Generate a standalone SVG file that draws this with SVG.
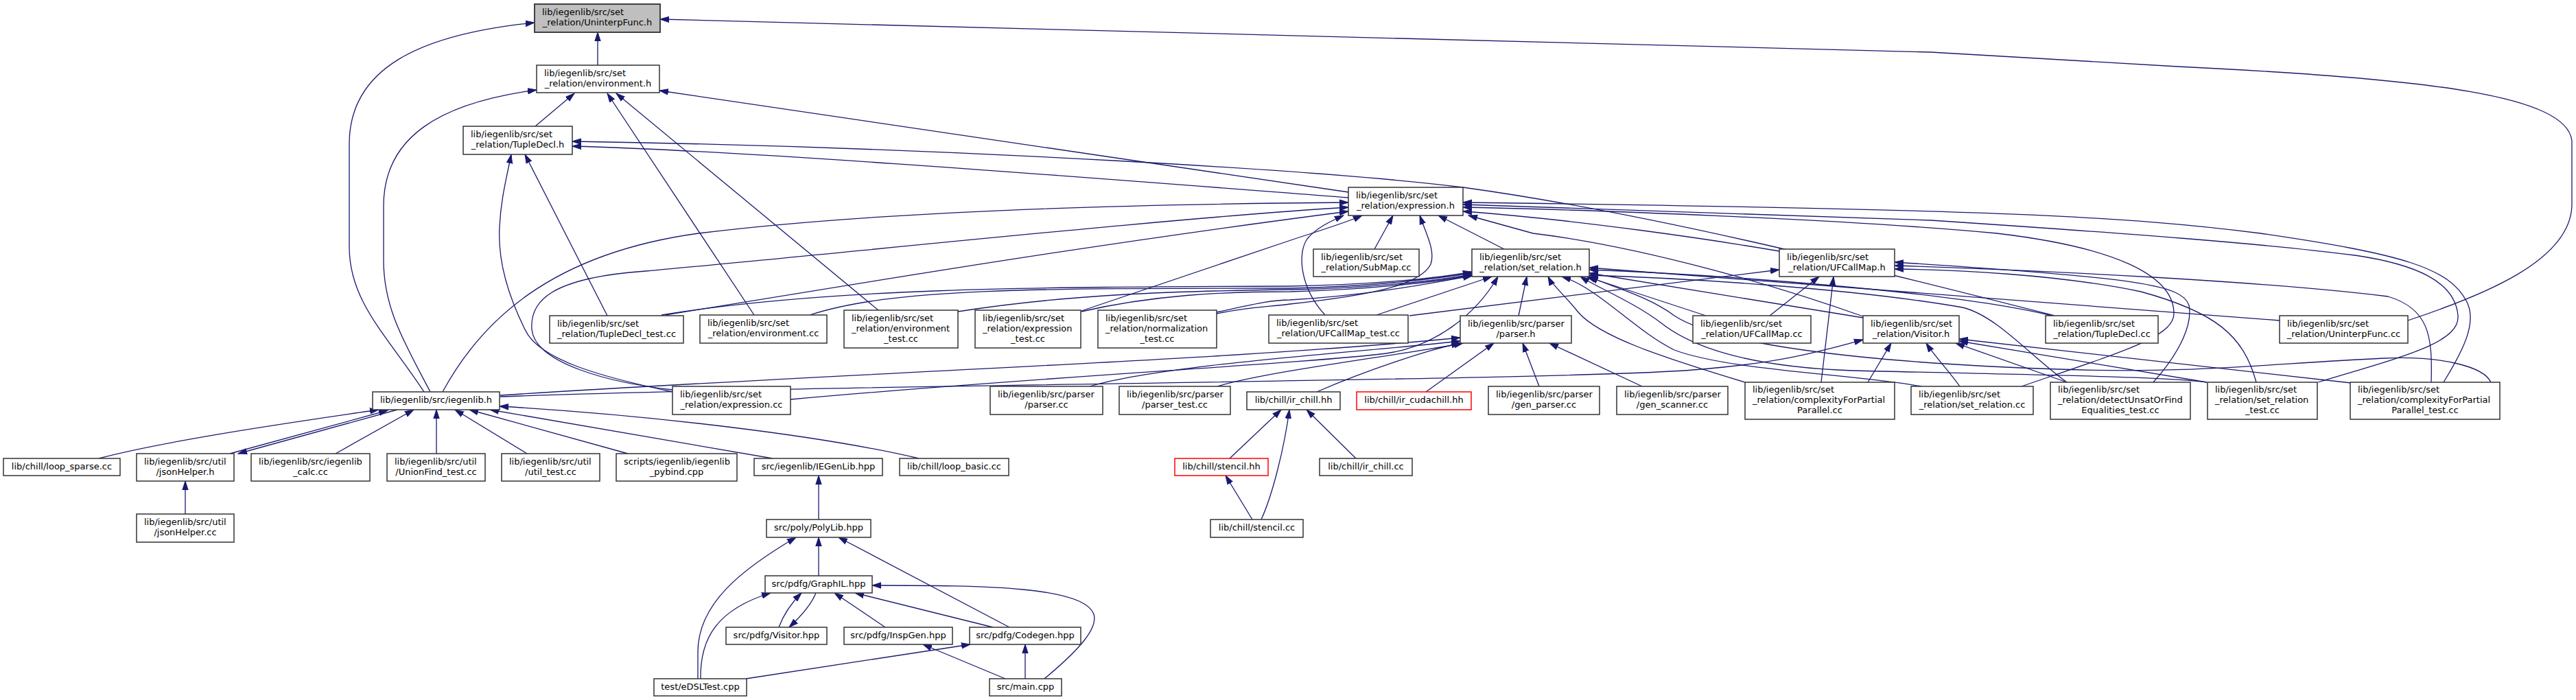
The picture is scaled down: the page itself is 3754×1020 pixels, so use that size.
<svg xmlns="http://www.w3.org/2000/svg" width="3754" height="1020" viewBox="0 0 3754 1020">
<defs>
<marker id="a" markerWidth="14" markerHeight="10" refX="13" refY="5" orient="auto" markerUnits="userSpaceOnUse"><path d="M0,0.8 L13,5 L0,9.2 z" fill="#191970" stroke="#191970" stroke-width="1"/></marker>
</defs>
<style>
.n rect{fill:#fff;stroke:#333;stroke-width:1.5}
.n.root rect{fill:#bfbfbf;stroke:#404040;stroke-width:2}
.n.red rect{stroke:#ff0000}
.n text{font-family:"DejaVu Sans",sans-serif;font-size:13px;fill:#000}
.n text.c{text-anchor:middle}
.e path{fill:none;stroke:#191970;stroke-width:1.3;marker-end:url(#a)}
</style>
<rect width="3754" height="1020" fill="#fff"/>
<g id="edges" class="e">
<path d="M871,95 L871,47"/>
<path d="M618,571 C565,490 509,440 509,360 L509,210 C509,100 610,50 779,33"/>
<path d="M3509,467 C3620,430 3745,380 3748,300 L3748,205 C3740,140 3550,115 3174,97 L2814,76 L962,28"/>
<path d="M780,184 L837,136"/>
<path d="M627,571 C590,500 559,450 559,380 L559,300 C559,200 640,150 782,131"/>
<path d="M1099,459 L885,136"/>
<path d="M1280,452 L898,136"/>
<path d="M1965,280 L961,132"/>
<path d="M1965,288 C1600,260 1100,220 834,213"/>
<path d="M2994,460 C2700,385 2400,310 2132,273 C1950,250 1400,215 834,206"/>
<path d="M885,460 L765,225"/>
<path d="M980,571 C880,550 785,525 765,480 C740,430 725,380 728,330 C730,290 738,260 745,225"/>
<path d="M980,568 C890,558 780,530 775,480 C772,440 800,405 941,395 C1200,372 1700,318 1965,302"/>
<path d="M645,571 C700,470 800,370 1018,340 C1300,305 1700,297 1965,295"/>
<path d="M144,668 C250,640 450,612 552,597"/>
<path d="M335,661 L565,598"/>
<path d="M579,597 L347,661"/>
<path d="M489,661 L603,597"/>
<path d="M636,661 L636,597"/>
<path d="M768,661 L663,597"/>
<path d="M915,661 L684,597"/>
<path d="M1126,668 L714,597"/>
<path d="M1339,668 C1200,635 950,605 728,592"/>
<path d="M270,749 L270,701"/>
<path d="M1193,757 L1193,693"/>
<path d="M1193,839 L1193,783"/>
<path d="M1471,914 L1222,783"/>
<path d="M1017,989 L1017,950 C1017,880 1080,830 1160,783"/>
<path d="M1135,914 C1142,895 1155,877 1168,864"/>
<path d="M1189,864 C1182,882 1165,900 1150,914"/>
<path d="M1290,914 L1216,864"/>
<path d="M1447,914 L1246,864"/>
<path d="M1522,989 C1575,945 1600,915 1594,895 C1580,855 1440,853 1271,853"/>
<path d="M1021,989 C1020,930 1045,888 1123,864"/>
<path d="M1087,989 L1414,939"/>
<path d="M1465,989 L1345,939"/>
<path d="M1494,989 L1494,939"/>
<path d="M1825,757 L1786,693"/>
<path d="M1838,757 C1855,720 1872,650 1879,597"/>
<path d="M1792,668 L1867,597"/>
<path d="M1976,668 L1904,597"/>
<path d="M1919,571 C1990,540 2080,510 2128,500"/>
<path d="M2078,571 L2177,500"/>
<path d="M2243,563 L2219,500"/>
<path d="M2393,563 L2258,500"/>
<path d="M1588,563 C1700,530 2000,512 2128,497"/>
<path d="M1774,563 C1850,540 2060,515 2132,500"/>
<path d="M729,576 C1200,545 1800,525 2128,492"/>
<path d="M729,578 C1200,560 2300,555 2480,538 C2600,528 2660,510 2715,495"/>
<path d="M2213,460 L2225,403"/>
<path d="M2192,363 L2096,314"/>
<path d="M2006,459 L2174,403"/>
<path d="M2486,460 L2312,403"/>
<path d="M2715,463 L2316,398"/>
<path d="M2715,461 C2600,420 2400,360 2234,340 L2140,314"/>
<path d="M964,459 C1200,420 1500,418 1880,417 C2000,415 2100,405 2145,396"/>
<path d="M1180,459 C1300,420 1500,420 1880,420 C2000,418 2100,405 2145,398"/>
<path d="M1396,454 C1550,430 1700,424 1880,422 C2000,420 2100,408 2145,400"/>
<path d="M1576,454 C1680,430 1780,425 1880,425 C2000,422 2100,410 2145,401"/>
<path d="M1773,455 C1820,445 1850,437 1880,437 C2000,430 2100,410 2145,402"/>
<path d="M1773,457 C1820,447 1850,447 1880,443 C2000,430 2070,415 2085,385 C2092,365 2078,340 2069,314"/>
<path d="M1576,453 L1881,350 C1920,337 1960,325 1985,314"/>
<path d="M1931,459 C1895,420 1890,370 1905,348 C1918,332 1940,322 1958,314"/>
<path d="M2003,363 L2030,314"/>
<path d="M970,459 C1300,405 1600,355 1965,308"/>
<path d="M2593,366 C2500,350 2300,320 2132,308"/>
<path d="M2054,460 L2593,393"/>
<path d="M2579,460 L2651,403"/>
<path d="M2654,557 L2672,403"/>
<path d="M2722,557 L2756,500"/>
<path d="M2856,563 C2840,540 2820,520 2807,500"/>
<path d="M3138,557 C3180,510 3195,470 3190,445 C3180,415 3120,405 2761,382"/>
<path d="M3543,557 C3545,490 3540,450 3480,432 C3300,410 3000,395 2761,387"/>
<path d="M3288,557 C3270,490 3230,455 3120,425 C3000,400 2850,393 2761,392"/>
<path d="M2946,563 C3100,510 3170,490 3168,455 C3166,400 3080,360 2910,340 C2700,320 2300,305 2132,302"/>
<path d="M3378,557 C3500,520 3585,500 3582,460 C3578,410 3520,385 3432,372 C3300,355 3100,340 2814,321 L2132,298"/>
<path d="M3561,557 C3590,510 3610,470 3595,440 C3570,390 3500,370 3294,340 C3100,315 2900,305 2132,295"/>
<path d="M2990,460 C2850,425 2500,400 2316,393"/>
<path d="M3322,467 L2316,390"/>
<path d="M3012,557 L2850,500"/>
<path d="M3216,557 L2855,497"/>
<path d="M3426,558 L2855,494"/>
<path d="M3012,557 C2960,520 2910,460 2860,448 C2700,420 2450,405 2316,401"/>
<path d="M2543,557 C2420,520 2330,490 2300,455 C2280,430 2262,415 2256,403"/>
<path d="M2800,563 C2700,545 2520,540 2440,510 C2380,480 2330,420 2276,403"/>
<path d="M3216,557 C3150,548 2900,545 2700,540 C2560,535 2470,510 2420,470 C2380,440 2330,420 2303,403"/>
<path d="M3630,557 C3620,535 3560,518 3474,522 C3300,530 3200,545 3000,538 C2700,528 2500,500 2440,460 C2400,430 2340,415 2316,403"/>
<path d="M1152,582 C1500,550 1900,530 2020,515 C2090,505 2150,460 2183,403"/>
</g>
<g id="n1" class="n root"><rect x="779" y="6" width="183" height="41"/><text x="790" y="22">lib/iegenlib/src/set</text><text class="c" x="870.5" y="37">_relation/UninterpFunc.h</text></g>
<g id="n2" class="n"><rect x="782" y="95" width="179" height="40"/><text x="793" y="110.5">lib/iegenlib/src/set</text><text class="c" x="871.5" y="125.5">_relation/environment.h</text></g>
<g id="n3" class="n"><rect x="675" y="184" width="159" height="41"/><text x="686" y="200">lib/iegenlib/src/set</text><text class="c" x="754.5" y="215">_relation/TupleDecl.h</text></g>
<g id="n4" class="n"><rect x="1965" y="273" width="167" height="41"/><text x="1976" y="289">lib/iegenlib/src/set</text><text class="c" x="2048.5" y="304">_relation/expression.h</text></g>
<g id="n5" class="n"><rect x="1914" y="363" width="154" height="40"/><text x="1925" y="378.5">lib/iegenlib/src/set</text><text class="c" x="1991" y="393.5">_relation/SubMap.cc</text></g>
<g id="n6" class="n"><rect x="2145" y="363" width="171" height="40"/><text x="2156" y="378.5">lib/iegenlib/src/set</text><text class="c" x="2230.5" y="393.5">_relation/set_relation.h</text></g>
<g id="n7" class="n"><rect x="2593" y="363" width="168" height="40"/><text x="2604" y="378.5">lib/iegenlib/src/set</text><text class="c" x="2677" y="393.5">_relation/UFCallMap.h</text></g>
<g id="n8" class="n"><rect x="801" y="460" width="195" height="40"/><text x="812" y="475.5">lib/iegenlib/src/set</text><text class="c" x="898.5" y="490.5">_relation/TupleDecl_test.cc</text></g>
<g id="n9" class="n"><rect x="1020" y="459" width="185" height="41"/><text x="1031" y="475">lib/iegenlib/src/set</text><text class="c" x="1112.5" y="490">_relation/environment.cc</text></g>
<g id="n10" class="n"><rect x="1230" y="452" width="166" height="55"/><text x="1241" y="467.5">lib/iegenlib/src/set</text><text x="1241" y="482.5">_relation/environment</text><text class="c" x="1313" y="497.5">_test.cc</text></g>
<g id="n11" class="n"><rect x="1421" y="452" width="154" height="55"/><text x="1432" y="467.5">lib/iegenlib/src/set</text><text x="1432" y="482.5">_relation/expression</text><text class="c" x="1498" y="497.5">_test.cc</text></g>
<g id="n12" class="n"><rect x="1600" y="452" width="173" height="55"/><text x="1611" y="467.5">lib/iegenlib/src/set</text><text x="1611" y="482.5">_relation/normalization</text><text class="c" x="1686.5" y="497.5">_test.cc</text></g>
<g id="n13" class="n"><rect x="1849" y="459" width="203" height="41"/><text x="1860" y="475">lib/iegenlib/src/set</text><text class="c" x="1950.5" y="490">_relation/UFCallMap_test.cc</text></g>
<g id="n14" class="n"><rect x="2128" y="460" width="162" height="40"/><text x="2139" y="475.5">lib/iegenlib/src/parser</text><text class="c" x="2209" y="490.5">/parser.h</text></g>
<g id="n15" class="n"><rect x="2467" y="460" width="172" height="40"/><text x="2478" y="475.5">lib/iegenlib/src/set</text><text class="c" x="2553" y="490.5">_relation/UFCallMap.cc</text></g>
<g id="n16" class="n"><rect x="2715" y="460" width="140" height="40"/><text x="2726" y="475.5">lib/iegenlib/src/set</text><text class="c" x="2785" y="490.5">_relation/Visitor.h</text></g>
<g id="n17" class="n"><rect x="2981" y="460" width="164" height="40"/><text x="2992" y="475.5">lib/iegenlib/src/set</text><text class="c" x="3063" y="490.5">_relation/TupleDecl.cc</text></g>
<g id="n18" class="n"><rect x="3322" y="460" width="187" height="40"/><text x="3333" y="475.5">lib/iegenlib/src/set</text><text class="c" x="3415.5" y="490.5">_relation/UninterpFunc.cc</text></g>
<g id="n19" class="n"><rect x="543" y="571" width="185" height="26"/><text class="c" x="635.5" y="587">lib/iegenlib/src/iegenlib.h</text></g>
<g id="n20" class="n"><rect x="980" y="563" width="172" height="41"/><text x="991" y="579">lib/iegenlib/src/set</text><text class="c" x="1066" y="594">_relation/expression.cc</text></g>
<g id="n21" class="n"><rect x="1443" y="563" width="164" height="41"/><text x="1454" y="579">lib/iegenlib/src/parser</text><text class="c" x="1525" y="594">/parser.cc</text></g>
<g id="n22" class="n"><rect x="1631" y="563" width="162" height="41"/><text x="1642" y="579">lib/iegenlib/src/parser</text><text class="c" x="1712" y="594">/parser_test.cc</text></g>
<g id="n23" class="n"><rect x="1817" y="571" width="136" height="26"/><text class="c" x="1885" y="587">lib/chill/ir_chill.hh</text></g>
<g id="n24" class="n red"><rect x="1977" y="571" width="167" height="26"/><text class="c" x="2060.5" y="587">lib/chill/ir_cudachill.hh</text></g>
<g id="n25" class="n"><rect x="2169" y="563" width="162" height="41"/><text x="2180" y="579">lib/iegenlib/src/parser</text><text class="c" x="2250" y="594">/gen_parser.cc</text></g>
<g id="n26" class="n"><rect x="2356" y="563" width="162" height="41"/><text x="2367" y="579">lib/iegenlib/src/parser</text><text class="c" x="2437" y="594">/gen_scanner.cc</text></g>
<g id="n27" class="n"><rect x="2543" y="557" width="218" height="54"/><text x="2554" y="572">lib/iegenlib/src/set</text><text x="2554" y="587">_relation/complexityForPartial</text><text class="c" x="2652" y="602">Parallel.cc</text></g>
<g id="n28" class="n"><rect x="2785" y="563" width="178" height="41"/><text x="2796" y="579">lib/iegenlib/src/set</text><text class="c" x="2874" y="594">_relation/set_relation.cc</text></g>
<g id="n29" class="n"><rect x="2988" y="557" width="204" height="54"/><text x="2999" y="572">lib/iegenlib/src/set</text><text x="2999" y="587">_relation/detectUnsatOrFind</text><text class="c" x="3090" y="602">Equalities_test.cc</text></g>
<g id="n30" class="n"><rect x="3217" y="557" width="160" height="54"/><text x="3228" y="572">lib/iegenlib/src/set</text><text x="3228" y="587">_relation/set_relation</text><text class="c" x="3297" y="602">_test.cc</text></g>
<g id="n31" class="n"><rect x="3425" y="557" width="218" height="54"/><text x="3436" y="572">lib/iegenlib/src/set</text><text x="3436" y="587">_relation/complexityForPartial</text><text class="c" x="3534" y="602">Parallel_test.cc</text></g>
<g id="n32" class="n"><rect x="5" y="668" width="170" height="25"/><text class="c" x="90" y="683.5">lib/chill/loop_sparse.cc</text></g>
<g id="n33" class="n"><rect x="199" y="661" width="142" height="40"/><text x="210" y="676.5">lib/iegenlib/src/util</text><text class="c" x="270" y="691.5">/jsonHelper.h</text></g>
<g id="n34" class="n"><rect x="366" y="661" width="173" height="40"/><text x="377" y="676.5">lib/iegenlib/src/iegenlib</text><text class="c" x="452.5" y="691.5">_calc.cc</text></g>
<g id="n35" class="n"><rect x="564" y="661" width="143" height="40"/><text x="575" y="676.5">lib/iegenlib/src/util</text><text class="c" x="635.5" y="691.5">/UnionFind_test.cc</text></g>
<g id="n36" class="n"><rect x="731" y="661" width="143" height="40"/><text x="742" y="676.5">lib/iegenlib/src/util</text><text class="c" x="802.5" y="691.5">/util_test.cc</text></g>
<g id="n37" class="n"><rect x="898" y="661" width="176" height="40"/><text x="909" y="676.5">scripts/iegenlib/iegenlib</text><text class="c" x="986" y="691.5">_pybind.cpp</text></g>
<g id="n38" class="n"><rect x="1099" y="668" width="187" height="25"/><text class="c" x="1192.5" y="683.5">src/iegenlib/IEGenLib.hpp</text></g>
<g id="n39" class="n"><rect x="1311" y="668" width="159" height="25"/><text class="c" x="1390.5" y="683.5">lib/chill/loop_basic.cc</text></g>
<g id="n40" class="n red"><rect x="1712" y="668" width="136" height="25"/><text class="c" x="1780" y="683.5">lib/chill/stencil.hh</text></g>
<g id="n41" class="n"><rect x="1923" y="668" width="135" height="25"/><text class="c" x="1990.5" y="683.5">lib/chill/ir_chill.cc</text></g>
<g id="n42" class="n"><rect x="199" y="749" width="142" height="41"/><text x="210" y="765">lib/iegenlib/src/util</text><text class="c" x="270" y="780">/jsonHelper.cc</text></g>
<g id="n43" class="n"><rect x="1117" y="757" width="152" height="26"/><text class="c" x="1193" y="773">src/poly/PolyLib.hpp</text></g>
<g id="n44" class="n"><rect x="1764" y="757" width="135" height="26"/><text class="c" x="1831.5" y="773">lib/chill/stencil.cc</text></g>
<g id="n45" class="n"><rect x="1115" y="839" width="156" height="25"/><text class="c" x="1193" y="854.5">src/pdfg/GraphIL.hpp</text></g>
<g id="n46" class="n"><rect x="1058" y="914" width="147" height="25"/><text class="c" x="1131.5" y="929.5">src/pdfg/Visitor.hpp</text></g>
<g id="n47" class="n"><rect x="1230" y="914" width="158" height="25"/><text class="c" x="1309" y="929.5">src/pdfg/InspGen.hpp</text></g>
<g id="n48" class="n"><rect x="1413" y="914" width="162" height="25"/><text class="c" x="1494" y="929.5">src/pdfg/Codegen.hpp</text></g>
<g id="n49" class="n"><rect x="953" y="989" width="135" height="25"/><text class="c" x="1020.5" y="1004.5">test/eDSLTest.cpp</text></g>
<g id="n50" class="n"><rect x="1442" y="989" width="105" height="25"/><text class="c" x="1494.5" y="1004.5">src/main.cpp</text></g>
</svg>
